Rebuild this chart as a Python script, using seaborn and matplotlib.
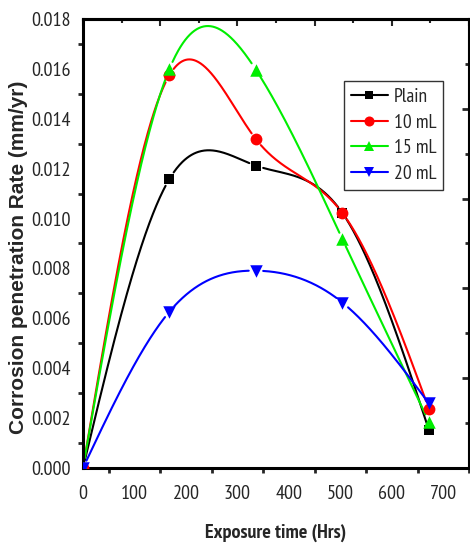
import numpy as np
import pandas as pd
import matplotlib
matplotlib.use("Agg")
import matplotlib.pyplot as plt
from matplotlib import font_manager
from matplotlib.lines import Line2D
import seaborn as sns

# Exposure times (hours) and corrosion penetration rates (mm/yr)
hours = [0, 168, 336, 504, 672]
plain = [0.0, 0.01159, 0.01212, 0.01022, 0.00152]
ml_10 = [0.0, 0.01575, 0.01318, 0.01022, 0.00237]
ml_15 = [0.0, 0.01600, 0.01596, 0.00917, 0.00186]
ml_20 = [0.0, 0.00627, 0.00791, 0.00663, 0.00259]

series_names = ["Plain", "10 mL", "15 mL", "20 mL"]
series_values = [plain, ml_10, ml_15, ml_20]
colors = {"Plain": "#000000", "10 mL": "#ff0000", "15 mL": "#00ee00", "20 mL": "#0000ff"}
markers = {"Plain": "s", "10 mL": "o", "15 mL": "^", "20 mL": "v"}
msizes = {"Plain": 7, "10 mL": 8.5, "15 mL": 9, "20 mL": 9}

sns.set_style("white")

# Narrow sans face (with a bold weight) for horizontal text
fonts = font_manager.fontManager.ttflist
narrow_pref = ["Liberation Sans Narrow", "Arial Narrow", "Archivo Narrow", "PT Sans Narrow",
               "Roboto Condensed", "Open Sans Condensed", "IBM Plex Sans Condensed",
               "Fira Sans Condensed", "Barlow Semi Condensed", "Encode Sans Condensed",
               "Asap Condensed", "Sofia Sans Semi Condensed", "Saira SemiCondensed"]


def has_bold(family):
    return any(f.name == family and int(f.weight) >= 700 for f in fonts)


narrow_found = [f for f in narrow_pref if has_bold(f)]
if narrow_found:
    narrow = [narrow_found[0], "DejaVu Sans"]
    tick_fs, leg_fs, xlab_fs = 14.5, 14, 14.5
else:
    narrow = ["Liberation Sans", "DejaVu Sans"]
    tick_fs, leg_fs, xlab_fs = 11.5, 11.5, 11.5
plt.rcParams["font.family"] = narrow


def natural_spline(x, y, xs):
    """Natural cubic spline through (x, y), evaluated at xs."""
    x = np.asarray(x, float)
    y = np.asarray(y, float)
    n = len(x)
    h = np.diff(x)
    A = np.zeros((n, n))
    b = np.zeros(n)
    A[0, 0] = A[-1, -1] = 1.0
    for i in range(1, n - 1):
        A[i, i - 1] = h[i - 1]
        A[i, i] = 2 * (h[i - 1] + h[i])
        A[i, i + 1] = h[i]
        b[i] = 6 * ((y[i + 1] - y[i]) / h[i] - (y[i] - y[i - 1]) / h[i - 1])
    M = np.linalg.solve(A, b)
    idx = np.clip(np.searchsorted(x, xs) - 1, 0, n - 2)
    x0, x1 = x[idx], x[idx + 1]
    hh = x1 - x0
    t0, t1 = x1 - xs, xs - x0
    return (M[idx] * t0 ** 3 / (6 * hh) + M[idx + 1] * t1 ** 3 / (6 * hh)
            + (y[idx] / hh - M[idx] * hh / 6) * t0
            + (y[idx + 1] / hh - M[idx + 1] * hh / 6) * t1)


fig = plt.figure(figsize=(4.7, 5.45), dpi=100)
ax = fig.add_axes([0.1766, 0.1413, 0.8214, 0.8239])
ax.set_xlim(0, 750)
ax.set_ylim(0, 0.018)

# Smooth curves with a small gap left around each symbol
gap_px = 7.0
line_rows = []
for name, vals in zip(series_names, series_values):
    xs = np.linspace(hours[0], hours[-1], 600)
    ys = natural_spline(hours, vals, xs)
    disp = ax.transData.transform(np.column_stack([xs, ys]))
    pts = ax.transData.transform(np.column_stack([hours, vals]))
    d = np.min(np.hypot(disp[:, None, 0] - pts[None, :, 0],
                        disp[:, None, 1] - pts[None, :, 1]), axis=1)
    keep = d > gap_px
    seg = np.cumsum(np.r_[0, np.diff(keep.astype(int)) != 0])
    for xv, yv, s in zip(xs[keep], ys[keep], seg[keep]):
        line_rows.append({"hours": xv, "rate": yv, "series": name, "seg": f"{name}-{s}"})

lines_df = pd.DataFrame(line_rows)
sns.lineplot(data=lines_df, x="hours", y="rate", hue="series", units="seg",
             estimator=None, sort=False, palette=colors, hue_order=series_names,
             linewidth=1.5, legend=False, ax=ax)

for name, vals in zip(series_names, series_values):
    pdf = pd.DataFrame({"hours": hours, "rate": vals})
    sns.scatterplot(data=pdf, x="hours", y="rate", color=colors[name],
                    marker=markers[name], s=msizes[name] ** 2, linewidth=0,
                    legend=False, ax=ax, zorder=3)

# Axes styling
for side in ["left", "bottom", "top"]:
    ax.spines[side].set_linewidth(2.2)
    ax.spines[side].set_color("black")
ax.spines["right"].set_linewidth(1.5)
ax.spines["right"].set_color("black")

ax.set_xticks(np.arange(0, 701, 100))
ax.set_xticks(np.arange(50, 751, 100), minor=True)
ax.set_yticks(np.arange(0, 0.0181, 0.002))
ax.set_yticks(np.arange(0.001, 0.018, 0.002), minor=True)
ax.set_yticklabels([f"{v:.3f}" for v in np.arange(0, 0.0181, 0.002)])
ax.tick_params(axis="both", which="major", direction="out", length=6, width=2,
               labelsize=tick_fs, pad=2.5, top=False, right=False)
ax.tick_params(axis="x", which="major", pad=6)
ax.tick_params(axis="both", which="minor", direction="out", length=3.5, width=2,
               top=False, right=False, left=True, bottom=True)

top = ax.secondary_xaxis("top")
top.set_xticks(np.arange(0, 751, 150))
top.set_xticks(np.arange(75, 751, 150), minor=True)
top.tick_params(which="major", direction="in", length=5, width=1.5, labeltop=False)
top.tick_params(which="minor", direction="in", length=3, width=1.5)
top.spines["top"].set_linewidth(2.2)

right = ax.secondary_yaxis("right")
right.set_yticks(np.arange(0, 0.0181, 0.0036))
right.set_yticks(np.arange(0.0018, 0.018, 0.0036), minor=True)
right.tick_params(which="major", direction="in", length=5, width=2, labelright=False)
right.tick_params(which="minor", direction="in", length=3, width=2)

ax.set_xlabel("Exposure time (Hrs)", fontsize=xlab_fs, fontweight="bold", labelpad=15)
ax.set_ylabel("Corrosion penetration Rate (mm/yr)", fontsize=15, fontweight="bold",
              family=["Liberation Sans", "DejaVu Sans"])
ax.yaxis.set_label_coords(-0.143, 0.469)

handles = [Line2D([], [], color=colors[n], marker=markers[n], markersize=msizes[n] * 0.85,
                  linewidth=1.5, markeredgewidth=0) for n in series_names]
leg = ax.legend(handles, series_names, loc="upper left", bbox_to_anchor=(0.676, 0.862),
                borderaxespad=0, fancybox=False, framealpha=1, edgecolor="#333333",
                fontsize=leg_fs, handlelength=1.9, handletextpad=0.3, labelspacing=0.4,
                borderpad=0.35)
leg.get_frame().set_linewidth(1.0)

fig.savefig("out.png", dpi=100)
